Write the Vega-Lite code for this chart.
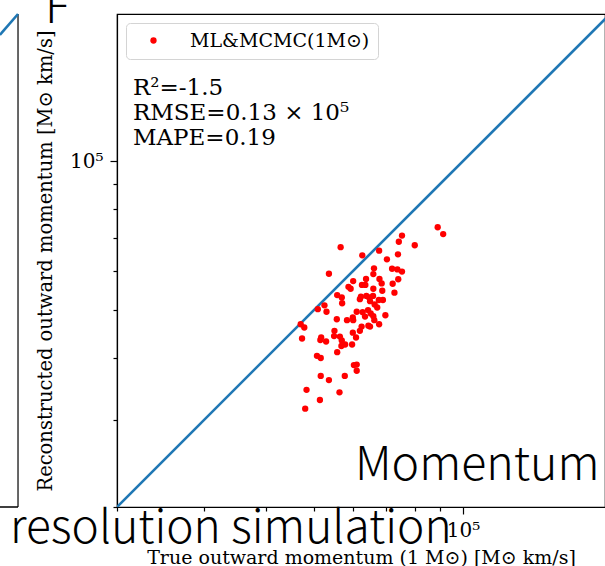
{
  "$schema": "https://vega.github.io/schema/vega-lite/v6.json",
  "width": 488,
  "height": 493,
  "autosize": {"type": "none"},
  "padding": {"left": 117, "top": 14, "right": 0, "bottom": 59},
  "background": "white",
  "config": {
    "view": {"stroke": "black", "strokeWidth": 1.2},
    "axis": {
      "grid": false,
      "domainColor": "black",
      "domainWidth": 1.2,
      "tickColor": "black",
      "tickWidth": 1.2,
      "labelColor": "black",
      "titleColor": "black",
      "labelFont": "DejaVu Serif",
      "titleFont": "DejaVu Serif",
      "titleFontWeight": "normal",
      "labelOverlap": false,
      "labelFlush": false
    }
  },
  "layer": [
    {
      "description": "one-to-one reference line",
      "data": {"values": [{"x": 20000, "y": 20000}, {"x": 200000, "y": 200000}]},
      "mark": {"type": "line", "clip": true, "color": "#1f77b4", "strokeWidth": 2.6},
      "encoding": {
        "x": {
          "field": "x",
          "type": "quantitative",
          "scale": {"type": "log", "domain": [20000, 193600], "nice": false, "zero": false},
          "axis": {
            "title": "True outward momentum (1 M⊙) [M⊙ km/s]",
            "values": [20000, 30000, 40000, 50000, 60000, 70000, 80000, 90000, 100000],
            "labelExpr": "datum.value == 100000 ? '10⁵' : ''",
            "tickSize": {"condition": {"test": "datum.value == 100000", "value": 7}, "value": 4},
            "labelFontSize": 20,
            "labelPadding": 6,
            "titleFontSize": 19,
            "titlePadding": 8
          }
        },
        "y": {
          "field": "y",
          "type": "quantitative",
          "scale": {"type": "log", "domain": [20000, 198200], "nice": false, "zero": false},
          "axis": {
            "title": "Reconstructed outward momentum [M⊙ km/s]",
            "values": [20000, 30000, 40000, 50000, 60000, 70000, 80000, 90000, 100000],
            "labelExpr": "datum.value == 100000 ? '10⁵' : ''",
            "tickSize": {"condition": {"test": "datum.value == 100000", "value": 7}, "value": 4},
            "labelFontSize": 20,
            "labelPadding": 7,
            "titleFontSize": 19.5,
            "titlePadding": 14
          }
        }
      }
    },
    {
      "description": "reconstructed vs true momentum",
      "data": {
        "values": [
          {"x": 88900, "y": 73500}, {"x": 91200, "y": 71200}, {"x": 75300, "y": 70700},
          {"x": 74200, "y": 68700}, {"x": 79900, "y": 67600}, {"x": 56600, "y": 67000},
          {"x": 67700, "y": 65900}, {"x": 62600, "y": 64500}, {"x": 73900, "y": 64800},
          {"x": 70200, "y": 63300}, {"x": 53600, "y": 59200}, {"x": 66100, "y": 60700},
          {"x": 71900, "y": 60600}, {"x": 73700, "y": 60400}, {"x": 75300, "y": 59800},
          {"x": 65900, "y": 59100}, {"x": 74000, "y": 57700}, {"x": 63700, "y": 57800},
          {"x": 67800, "y": 57800}, {"x": 68500, "y": 56600}, {"x": 72100, "y": 56500},
          {"x": 60000, "y": 57200}, {"x": 58700, "y": 55700}, {"x": 59300, "y": 55200},
          {"x": 62500, "y": 56200}, {"x": 63500, "y": 56200}, {"x": 65900, "y": 55200},
          {"x": 68700, "y": 54700}, {"x": 72700, "y": 54200}, {"x": 55700, "y": 53600},
          {"x": 56900, "y": 53000}, {"x": 62200, "y": 53200}, {"x": 63800, "y": 53400},
          {"x": 64600, "y": 53000}, {"x": 65800, "y": 53400}, {"x": 61900, "y": 52600},
          {"x": 64900, "y": 52100}, {"x": 67600, "y": 52400}, {"x": 68900, "y": 52400},
          {"x": 57000, "y": 51600}, {"x": 66300, "y": 51300}, {"x": 52500, "y": 51100},
          {"x": 67100, "y": 50600}, {"x": 50900, "y": 50200}, {"x": 53000, "y": 49600},
          {"x": 61000, "y": 49600}, {"x": 62700, "y": 49500}, {"x": 64300, "y": 50000},
          {"x": 65100, "y": 49200}, {"x": 63400, "y": 48500}, {"x": 65900, "y": 48600},
          {"x": 69700, "y": 48800}, {"x": 55600, "y": 47900}, {"x": 58300, "y": 47700},
          {"x": 59900, "y": 48300}, {"x": 60000, "y": 47700}, {"x": 66200, "y": 47700},
          {"x": 47000, "y": 46800}, {"x": 47800, "y": 46100}, {"x": 62400, "y": 46300},
          {"x": 64400, "y": 46500}, {"x": 64900, "y": 46300}, {"x": 67700, "y": 46800},
          {"x": 55000, "y": 45400}, {"x": 61900, "y": 45400}, {"x": 54900, "y": 44300},
          {"x": 56400, "y": 44200}, {"x": 59900, "y": 45000}, {"x": 60800, "y": 44000},
          {"x": 47300, "y": 43800}, {"x": 51700, "y": 44000}, {"x": 51500, "y": 43500},
          {"x": 52900, "y": 43200}, {"x": 56900, "y": 43400}, {"x": 57800, "y": 42600},
          {"x": 56800, "y": 42300}, {"x": 59700, "y": 42600}, {"x": 55700, "y": 41100},
          {"x": 50700, "y": 40400}, {"x": 51600, "y": 40000}, {"x": 60200, "y": 38700},
          {"x": 61000, "y": 38800}, {"x": 61000, "y": 37700}, {"x": 51600, "y": 36800},
          {"x": 57700, "y": 36800}, {"x": 53600, "y": 36100}, {"x": 48300, "y": 34500},
          {"x": 56300, "y": 34100}, {"x": 51400, "y": 32900}, {"x": 48000, "y": 31600}
        ]
      },
      "mark": {"type": "circle", "size": 40, "opacity": 1, "clip": true},
      "encoding": {
        "x": {"field": "x", "type": "quantitative", "scale": {"type": "log", "domain": [20000, 193600], "nice": false, "zero": false}},
        "y": {"field": "y", "type": "quantitative", "scale": {"type": "log", "domain": [20000, 198200], "nice": false, "zero": false}},
        "color": {
          "datum": "ML&MCMC(1M⊙)",
          "type": "nominal",
          "scale": {"range": ["#ff0000"]},
          "legend": {
            "title": null,
            "orient": "top-left",
            "offset": 9,
            "padding": 8,
            "strokeColor": "#d4d4d4",
            "fillColor": "white",
            "cornerRadius": 4,
            "symbolType": "circle",
            "symbolSize": 40,
            "symbolOffset": 10,
            "symbolStrokeWidth": 0,
            "labelOffset": 27,
            "labelLimit": 0,
            "labelFont": "DejaVu Serif",
            "labelFontSize": 19,
            "labelColor": "black"
          }
        }
      }
    },
    {
      "description": "fit statistics",
      "data": {"values": [{"stat": ["R²=-1.5", "RMSE=0.13 × 10⁵", "MAPE=0.19"]}]},
      "mark": {"type": "text", "align": "left", "baseline": "top", "font": "DejaVu Serif", "fontSize": 23, "lineHeight": 25, "color": "black"},
      "encoding": {
        "x": {"datum": 21540, "type": "quantitative"},
        "y": {"datum": 147950, "type": "quantitative"},
        "text": {"field": "stat"}
      }
    },
    {
      "description": "slide caption inside the panel",
      "data": {"values": [{"caption": "Momentum"}]},
      "mark": {"type": "text", "align": "left", "baseline": "alphabetic", "font": "Noto Sans CJK JP", "fontWeight": 300, "fontSize": 46.5, "color": "black"},
      "encoding": {
        "x": {"datum": 60500, "type": "quantitative"},
        "y": {"datum": 22700, "type": "quantitative"},
        "text": {"field": "caption"}
      }
    },
    {
      "description": "slide caption below the panel",
      "data": {"values": [{"caption": "resolution simulation"}]},
      "mark": {"type": "text", "align": "left", "baseline": "alphabetic", "font": "Noto Sans CJK JP", "fontWeight": 300, "fontSize": 46, "color": "black"},
      "encoding": {
        "x": {"datum": 12160, "type": "quantitative"},
        "y": {"datum": 16920, "type": "quantitative"},
        "text": {"field": "caption"}
      }
    },
    {
      "description": "slide heading, cut by the top edge",
      "data": {"values": [{"caption": "F"}]},
      "mark": {"type": "text", "align": "left", "baseline": "alphabetic", "font": "Noto Sans CJK JP", "fontWeight": 300, "fontSize": 46.5, "color": "black"},
      "encoding": {
        "x": {"datum": 14310, "type": "quantitative"},
        "y": {"datum": 190000, "type": "quantitative"},
        "text": {"field": "caption"}
      }
    },
    {
      "description": "edge of the neighbouring panel: right spine",
      "data": {"values": [{"spine": "right"}]},
      "mark": {"type": "rule", "color": "black", "strokeWidth": 1.2},
      "encoding": {
        "x": {"datum": 12620, "type": "quantitative"},
        "y": {"datum": 20000, "type": "quantitative"},
        "y2": {"datum": 198200}
      }
    },
    {
      "description": "edge of the neighbouring panel: top and bottom spines",
      "data": {"values": [{"spine": "top"}, {"spine": "bottom"}]},
      "mark": {"type": "rule", "color": "black", "strokeWidth": 1.2},
      "encoding": {
        "x": {"datum": 10000, "type": "quantitative"},
        "x2": {"datum": 12620},
        "y": {"condition": {"test": "datum.spine == 'top'", "datum": 198200}, "datum": 20000, "type": "quantitative"}
      }
    },
    {
      "description": "edge of the neighbouring panel: its one-to-one line",
      "data": {"values": [{"x": 11600, "y": 179900}, {"x": 12620, "y": 198200}]},
      "mark": {"type": "line", "color": "#1f77b4", "strokeWidth": 2.6},
      "encoding": {
        "x": {"field": "x", "type": "quantitative"},
        "y": {"field": "y", "type": "quantitative"}
      }
    }
  ]
}
